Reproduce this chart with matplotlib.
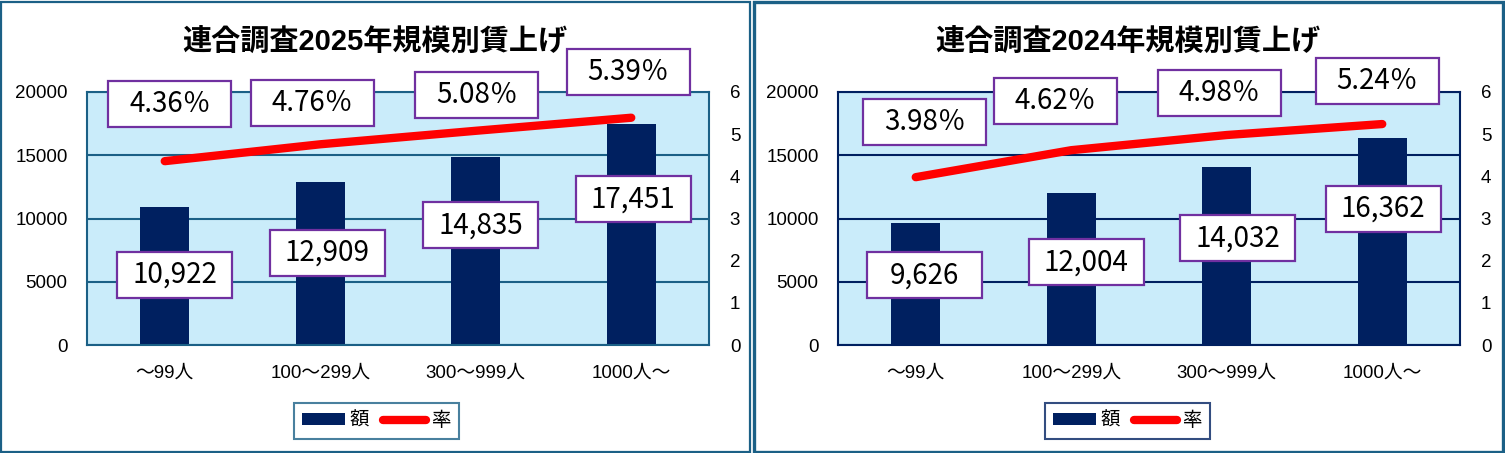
import matplotlib
matplotlib.use('Agg')
import matplotlib.pyplot as plt
from matplotlib.path import Path
from matplotlib.patches import Rectangle

# data
categories = ['～99人', '100～299人', '300～999人', '1000人～']
titles = ['連合調査2025年規模別賃上げ', '連合調査2024年規模別賃上げ']
amount_2025 = [10922, 12909, 14835, 17451]
rate_2025 = [4.36, 4.76, 5.08, 5.39]
amount_2024 = [9626, 12004, 14032, 16362]
rate_2024 = [3.98, 4.62, 4.98, 5.24]

# label offsets in pixels (dx, dy) from the point / bar top
rate_off_2025 = [(5, 57), (-8, 41), (1, 36), (-3, 46)]
amt_off_2025 = [(10, -68), (7, -71), (5, -68), (2, -75)]
rate_off_2024 = [(9, 55), (-16, 49), (-7, 42), (-5, 43)]
amt_off_2024 = [(9, -52), (15, -69), (11, -71), (1, -71)]

NAVY = '#002060'
TEAL = '#1b6086'
BG = '#caecfa'
PURPLE = '#7030a0'
RED = '#ff0000'

LATIN = ['Liberation Sans', 'Noto Sans CJK JP']
NARROW = ['Liberation Sans Narrow', 'Noto Sans CJK JP']
plt.rcParams['font.family'] = LATIN

W, H = 1505, 453
fig = plt.figure(figsize=(W / 100, H / 100), dpi=100)


def fixed_box(w, h):
    # box of fixed pixel size centred on the text
    def style(x0, y0, width, height, mutation_size):
        cx = x0 + width / 2
        cy = y0 + height / 2
        l, r, b, t = cx - w / 2, cx + w / 2, cy - h / 2, cy + h / 2
        return Path([(l, b), (r, b), (r, t), (l, t), (l, b)], closed=True)
    return style


def panel(left, title, amounts, rates, rate_off, amt_off, line_col, title_x):
    ax = fig.add_axes([left / W, 108 / H, 622 / W, 253 / H])
    ax2 = ax.twinx()
    x = list(range(len(categories)))

    bars = ax.bar(x, amounts, width=0.312, color=NAVY, zorder=2, label='額')
    ax.set_xlim(-0.5, len(categories) - 0.5)
    ax.set_ylim(0, 20000)
    ax.set_yticks([0, 5000, 10000, 15000, 20000])
    ax.set_xticks(x)
    ax.set_xticklabels(categories)
    ax.set_facecolor(BG)
    ax.set_axisbelow(True)
    ax.yaxis.grid(True, color=line_col, lw=1.5)
    ax.tick_params(axis='both', length=0, labelsize=13.5)
    ax.tick_params(axis='y', pad=14)
    ax.tick_params(axis='x', pad=14)
    for s in ax.spines.values():
        s.set_color(line_col)
        s.set_linewidth(1.5)

    line, = ax2.plot(x, rates, color=RED, lw=6, solid_capstyle='round', label='率')
    ax2.set_ylim(0, 6)
    ax2.set_yticks(range(7))
    ax2.tick_params(axis='y', length=0, labelsize=13.5, pad=15)
    for s in ax2.spines.values():
        s.set_visible(False)

    for i, r in enumerate(rates):
        ax2.annotate(f'{r:.2f}％', xy=(i, r), xytext=rate_off[i], textcoords='offset pixels',
                     ha='center', va='center', fontsize=20, family=NARROW,
                     bbox=dict(boxstyle=fixed_box(123, 46), fc='white', ec=PURPLE, lw=1.6))
    for i, a in enumerate(amounts):
        ax2.annotate(f'{a:,}', xy=(i, a), xycoords=ax.transData, xytext=amt_off[i],
                     textcoords='offset pixels', ha='center', va='center', fontsize=20,
                     family=NARROW,
                     bbox=dict(boxstyle=fixed_box(115, 46), fc='white', ec=PURPLE, lw=1.6))

    leg = ax.legend([bars, line], ['額', '率'], ncol=2, loc='center',
                    bbox_to_anchor=(0.465, -0.30), fontsize=14, frameon=True,
                    fancybox=False, handlelength=2.2, handleheight=0.55,
                    handletextpad=0.25, columnspacing=0.7, borderpad=0.45)
    leg.get_frame().set_edgecolor(line_col)
    leg.get_frame().set_linewidth(1.5)

    fig.text(title_x / W, 1 - 43 / H, title, ha='center', va='center',
             fontsize=21, fontweight='bold')


panel(87, titles[0], amount_2025, rate_2025, rate_off_2025, amt_off_2025, TEAL, 375)
panel(838, titles[1], amount_2024, rate_2024, rate_off_2024, amt_off_2024, NAVY, 1128)

# panel frames
fig.add_artist(Rectangle((1 / W, 1 / H), 749 / W, 450 / H, transform=fig.transFigure,
                         fill=False, ec=TEAL, lw=1.6))
fig.add_artist(Rectangle((753.5 / W, 1.5 / H), 749.5 / W, 449.5 / H, transform=fig.transFigure,
                         fill=False, ec=TEAL, lw=2.4))

fig.savefig('out.png', dpi=100)
